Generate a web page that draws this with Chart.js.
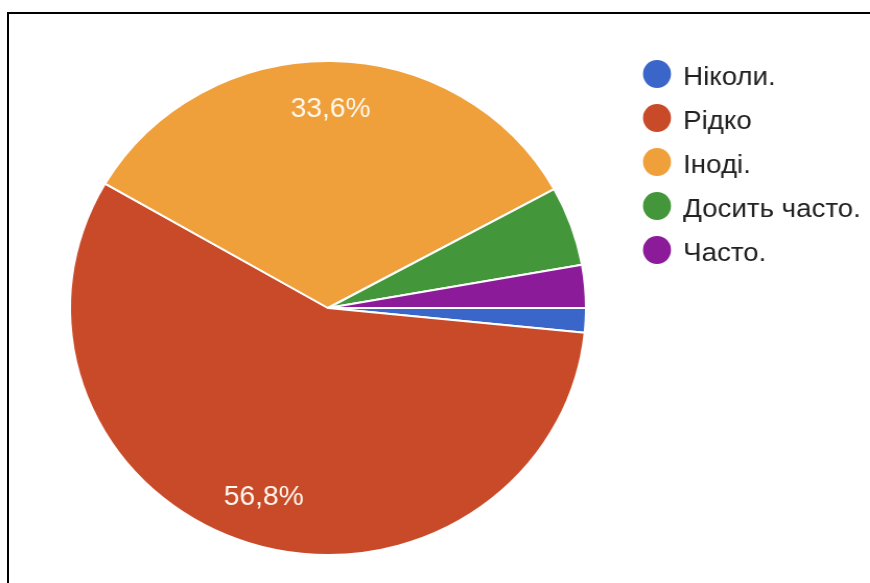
<!DOCTYPE html>
<html lang="uk">
<head>
<meta charset="utf-8">
<title>Як часто?</title>
<script src="https://cdn.jsdelivr.net/npm/chart.js@4/dist/chart.umd.min.js"></script>
<style>
  html, body { margin: 0; padding: 0; background: #ffffff; overflow: hidden; }
  body { width: 870px; height: 583px; position: relative; }
  #frame {
    position: absolute; left: 7px; top: 12px; width: 900px; height: 600px;
    border-left: 2px solid #000; border-top: 2px solid #000;
  }
  #wrap {
    position: absolute; left: 0; top: 0; width: 833px; height: 583px;
    transform: scaleX(1.0445); transform-origin: 0 0;
  }
</style>
</head>
<body>
<div id="frame"></div>
<div id="wrap"><canvas id="pie" width="833" height="583"></canvas></div>
<script>
// Survey answers and their shares, in percent
const categories = ['Ніколи.', 'Рідко', 'Іноді.', 'Досить часто.', 'Часто.'];
const shares = [1.6, 56.8, 33.6, 5.2, 2.8];
const sliceColors = ['#3b66c9', '#c94a28', '#efa03a', '#43973a', '#8c1b9a'];

const FONT = '"Liberation Sans", Arial, sans-serif';

// Percentage text inside the larger slices
const sliceLabels = {
  id: 'sliceLabels',
  afterDatasetsDraw(chart) {
    const ctx = chart.ctx;
    const meta = chart.getDatasetMeta(0);
    const values = chart.data.datasets[0].data;
    ctx.save();
    ctx.font = '27px ' + FONT;
    ctx.fillStyle = '#fff8ee';
    ctx.textAlign = 'center';
    ctx.textBaseline = 'middle';
    meta.data.forEach((arc, i) => {
      const v = values[i];
      if (v < 10) return;
      const p = arc.getProps(['x', 'y', 'startAngle', 'endAngle', 'outerRadius'], true);
      const mid = (p.startAngle + p.endAngle) / 2;
      const r = p.outerRadius * 0.805;
      ctx.fillText(v.toFixed(1).replace('.', ',') + '%',
        p.x + Math.cos(mid) * r, p.y + Math.sin(mid) * r);
    });
    ctx.restore();
  }
};

// Legend column with round markers to the right of the pie
const sideLegend = {
  id: 'sideLegend',
  afterDraw(chart) {
    const ctx = chart.ctx;
    const labels = chart.data.labels;
    const colors = chart.data.datasets[0].backgroundColor;
    const x0 = 629, y0 = 74, step = 44;
    ctx.save();
    ctx.font = '26.5px ' + FONT;
    ctx.textAlign = 'left';
    ctx.textBaseline = 'alphabetic';
    labels.forEach((label, i) => {
      const y = y0 + i * step;
      ctx.beginPath();
      ctx.ellipse(x0, y, 13.4, 14, 0, 0, Math.PI * 2);
      ctx.fillStyle = colors[i];
      ctx.fill();
      ctx.fillStyle = '#212121';
      ctx.fillText(label, x0 + 25, y + 11);
    });
    ctx.restore();
  }
};

new Chart(document.getElementById('pie'), {
  type: 'pie',
  data: {
    labels: categories,
    datasets: [{
      data: shares,
      backgroundColor: sliceColors,
      borderColor: '#ffffff',
      borderWidth: 2,
      hoverBorderWidth: 2
    }]
  },
  options: {
    responsive: false,
    devicePixelRatio: 1,
    animation: false,
    rotation: 90,
    layout: { padding: { top: 60, bottom: 27, left: 66, right: 271 } },
    plugins: {
      legend: { display: false },
      tooltip: { enabled: false }
    }
  },
  plugins: [sliceLabels, sideLegend]
});
</script>
</body>
</html>
